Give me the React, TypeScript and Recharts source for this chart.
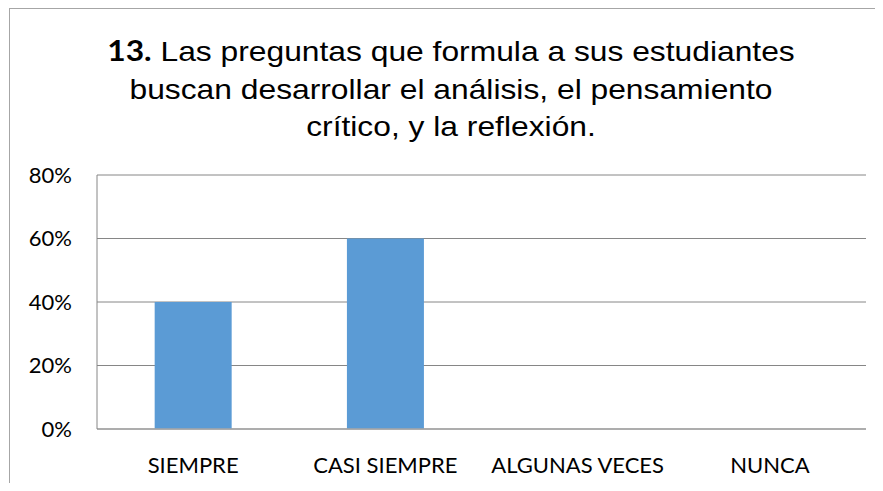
import React from "react";
import { BarChart, Bar, XAxis, YAxis, CartesianGrid } from "recharts";

const categories = ["SIEMPRE", "CASI SIEMPRE", "ALGUNAS VECES", "NUNCA"];
const values = [0.4, 0.6, 0, 0];
const yTicks = [0, 0.2, 0.4, 0.6, 0.8];

const data = categories.map((c, i) => ({ name: c, value: values[i] }));

const tickFont = { fontFamily: "Lato", fontSize: 22, fill: "#000" };

export default function App() {
  return (
    <div style={{ position: "relative", width: 867, height: 475, overflow: "hidden" }}>
      <div
        style={{
          position: "absolute",
          left: 1,
          top: 0,
          width: 1000,
          height: 1000,
          borderLeft: "1px solid #a6a6a6",
          borderTop: "1px solid #a6a6a6",
        }}
      />
      <div
        style={{
          position: "absolute",
          left: 0,
          top: 24,
          width: 886,
          textAlign: "center",
          fontFamily: "'Liberation Sans', Arial, sans-serif",
          fontSize: 28,
          lineHeight: "37.5px",
          color: "#000",
          transform: "scaleX(1.135)",
          transformOrigin: "443px 0",
        }}
      >
        <span style={{ fontFamily: "Lato", fontWeight: 700 }}>13.</span> Las preguntas que formula a sus estudiantes
        <br />
        buscan desarrollar el análisis, el pensamiento
        <br />
        crítico, y la reflexión.
      </div>
      <div style={{ position: "absolute", left: 0, top: 0 }}>
        <BarChart
          width={867}
          height={475}
          data={data}
          margin={{ top: 167, right: 9, bottom: 0, left: 0 }}
          barCategoryGap="30%"
        >
          <CartesianGrid vertical={false} stroke="#868686" />
          <XAxis
            dataKey="name"
            height={54}
            tickLine={false}
            tickSize={0}
            tickMargin={28}
            axisLine={{ stroke: "#a6a6a6", strokeWidth: 1.5 }}
            tick={tickFont}
            interval={0}
          />
          <YAxis
            width={89}
            domain={[0, 0.8]}
            ticks={yTicks}
            tickFormatter={(v: number) => `${Math.round(v * 100)}%`}
            tickLine={false}
            tickSize={0}
            tickMargin={25}
            axisLine={{ stroke: "#868686" }}
            tick={tickFont}
          />
          <Bar dataKey="value" fill="#5b9bd5" isAnimationActive={false} />
        </BarChart>
      </div>
    </div>
  );
}
